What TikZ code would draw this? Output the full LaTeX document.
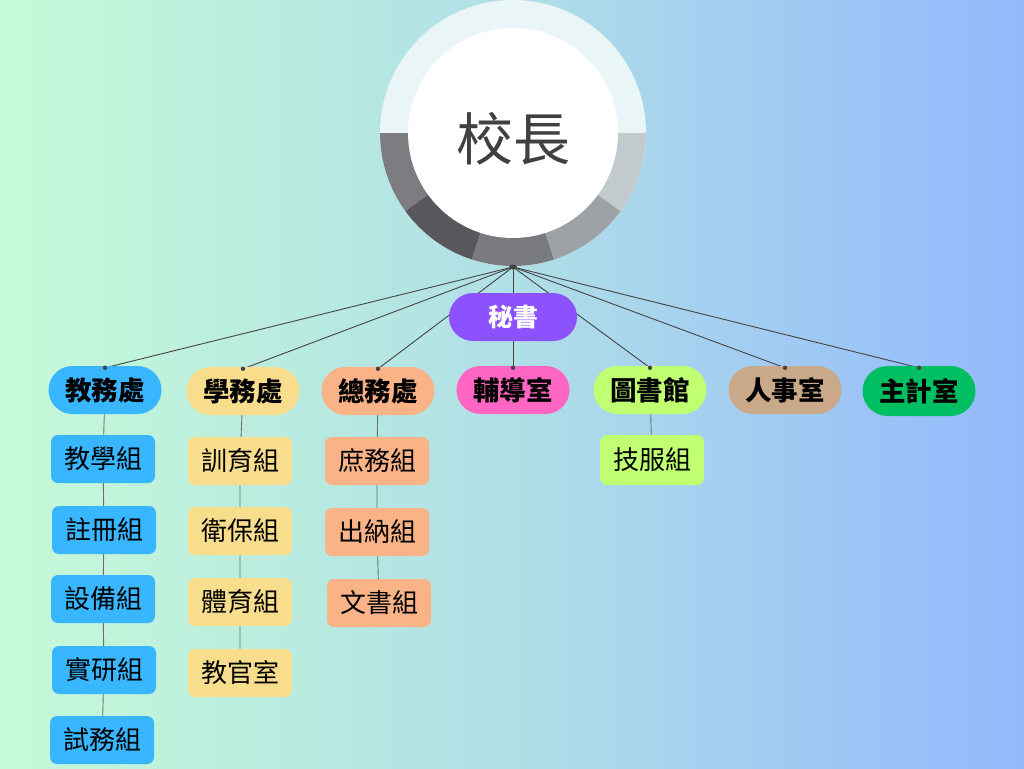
\documentclass[tikz,border=0pt]{standalone}
\usepackage{fontspec}
\setmainfont{Noto Sans CJK TC}
\pgfdeclarelayer{bgshade}
\pgfdeclarelayer{edges}
\pgfsetlayers{bgshade,edges,main}
\definecolor{bgL}{HTML}{C6FAD8}
\definecolor{bgM}{HTML}{B0DFE6}
\definecolor{bgR}{HTML}{93B8FD}
\definecolor{ringTop}{HTML}{E9F5F6}
\definecolor{segA}{HTML}{7C7C81}
\definecolor{segB}{HTML}{57575C}
\definecolor{segC}{HTML}{7A7B80}
\definecolor{segD}{HTML}{9DA2A6}
\definecolor{segE}{HTML}{C3CACD}
\definecolor{cJW}{HTML}{38B6FF}
\definecolor{cXW}{HTML}{F8DE8C}
\definecolor{cZW}{HTML}{F9B387}
\definecolor{cFD}{HTML}{FF66C4}
\definecolor{cTS}{HTML}{C1FF72}
\definecolor{cRS}{HTML}{C9A98A}
\definecolor{cZJ}{HTML}{00BF63}
\definecolor{cMS}{HTML}{8C52FF}
\definecolor{lineC}{HTML}{444444}
\definecolor{vline}{HTML}{707070}
\begin{document}
\begin{tikzpicture}[x=1pt,y=-1pt,
  pill/.style={rounded corners=24pt,minimum width=113pt,minimum height=48pt,inner sep=0pt,font=\fontsize{26.5}{28}\selectfont\bfseries},
  sub/.style={rounded corners=7pt,minimum width=104pt,minimum height=48pt,inner sep=0pt,font=\fontsize{26}{28}\selectfont},
  link/.style={draw=lineC,line width=0.9pt},
  vlink/.style={draw=vline,line width=0.9pt},
  dot/.style={fill=lineC}]
\useasboundingbox (0,0) rectangle (1024,768);
\begin{pgfonlayer}{bgshade}
\shade[left color=bgL,right color=bgR,middle color=bgM] (0,0) rectangle (1024,768);
\end{pgfonlayer}
% ring
\coordinate (c) at (513,133);
\fill[ringTop] (c) circle[radius=133];
\fill[segA] (c) -- ++(180:133) arc[start angle=180,end angle=144,radius=133] -- cycle;
\fill[segB] (c) -- ++(144:133) arc[start angle=144,end angle=108,radius=133] -- cycle;
\fill[segC] (c) -- ++(108:133) arc[start angle=108,end angle=72,radius=133] -- cycle;
\fill[segD] (c) -- ++(72:133) arc[start angle=72,end angle=36,radius=133] -- cycle;
\fill[segE] (c) -- ++(36:133) arc[start angle=36,end angle=0,radius=133] -- cycle;
\node[circle,fill=white,minimum size=210pt,inner sep=0pt,text=black!75,font=\fontsize{57}{60}\selectfont,text depth=0pt] (head) at (c) {\raisebox{-6pt}{校長}};
\coordinate (hub) at (513,267);
% departments
\node[pill,fill=cMS,text=white,minimum width=128pt,font=\fontsize{25}{27}\selectfont\bfseries] (ms) at (513,317) {秘書};
\node[pill,fill=cJW] (jw) at (105,390) {教務處};
\node[pill,fill=cXW] (xw) at (243,391) {學務處};
\node[pill,fill=cZW] (zw) at (378,391) {總務處};
\node[pill,fill=cFD] (fd) at (513,390) {輔導室};
\node[pill,fill=cTS] (ts) at (650,390) {圖書館};
\node[pill,fill=cRS] (rs) at (785,390) {人事室};
\node[pill,fill=cZJ,minimum height=50pt,rounded corners=25pt] (zj) at (919,391) {主計室};
% sub units
\node[sub,fill=cJW] (j1) at (103,459) {教學組};
\node[sub,fill=cJW] (j2) at (104,530) {註冊組};
\node[sub,fill=cJW] (j3) at (103,599) {設備組};
\node[sub,fill=cJW] (j4) at (104,670) {實研組};
\node[sub,fill=cJW] (j5) at (102,740) {試務組};
\node[sub,fill=cXW] (x1) at (240,461) {訓育組};
\node[sub,fill=cXW] (x2) at (240,531) {衛保組};
\node[sub,fill=cXW] (x3) at (240,602) {體育組};
\node[sub,fill=cXW] (x4) at (240,673) {教官室};
\node[sub,fill=cZW] (z1) at (377,461) {庶務組};
\node[sub,fill=cZW] (z2) at (377,532) {出納組};
\node[sub,fill=cZW] (z3) at (379,603) {文書組};
\node[sub,fill=cTS,minimum height=50pt] (t1) at (652,460) {技服組};
\begin{pgfonlayer}{edges}
\foreach \d in {jw,xw,zw,fd,ts,rs,zj}{
  \draw[link] (hub) -- ([yshift=-2pt]\d.north);
}
\draw[link] (hub) -- (ms);
\draw[vlink] (jw) -- (j1) (j1) -- (j2) (j2) -- (j3) (j3) -- (j4) (j4) -- (j5);
\draw[vlink] (xw) -- (x1) (x1) -- (x2) (x2) -- (x3) (x3) -- (x4);
\draw[vlink] (zw) -- (z1) (z1) -- (z2) (z2) -- (z3);
\draw[vlink] (ts) -- (t1);
\end{pgfonlayer}
\foreach \d in {jw,xw,zw,fd,ts,rs,zj}{
  \fill[dot] ([yshift=-2pt]\d.north) circle[radius=2.2];
}
\fill[lineC] (hub) ellipse[x radius=4,y radius=2.5];
\end{tikzpicture}
\end{document}
